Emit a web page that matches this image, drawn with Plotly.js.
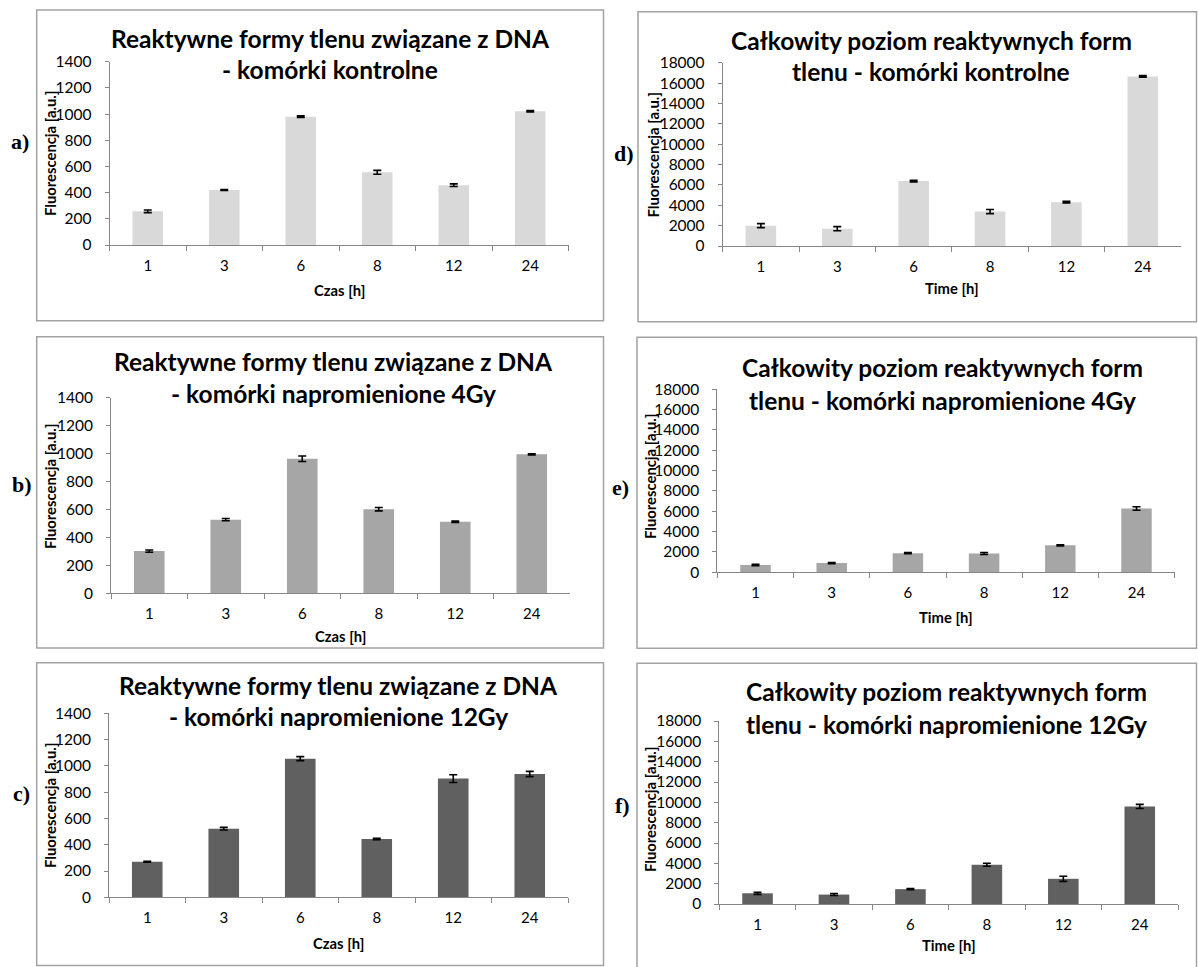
<!DOCTYPE html>
<html>
<head>
<meta charset="utf-8">
<script src="https://cdn.plot.ly/plotly-3.0.1.min.js"></script>
<style>
  html, body { margin: 0; padding: 0; background: #ffffff; }
  #chart { width: 1198px; height: 967px; }
</style>
</head>
<body>
<div id="chart"></div>
<script>
// ---------- DATA ----------
const hours = ['1', '3', '6', '8', '12', '24'];

const dnaControl    = [257, 420, 980, 555, 457, 1022];
const dnaControlErr = [10, 3, 6, 15, 10, 5];
const dna4Gy        = [302, 527, 963, 602, 512, 995];
const dna4GyErr     = [8, 8, 20, 12, 5, 4];
const dna12Gy       = [270, 522, 1055, 443, 903, 938];
const dna12GyErr    = [3, 10, 15, 5, 30, 20];

const totalControl    = [2000, 1700, 6380, 3380, 4300, 16650];
const totalControlErr = [200, 200, 80, 200, 80, 80];
const total4Gy        = [720, 910, 1880, 1850, 2650, 6280];
const total4GyErr     = [60, 60, 60, 100, 60, 170];
const total12Gy       = [1050, 930, 1460, 3860, 2480, 9600];
const total12GyErr    = [100, 100, 50, 150, 250, 200];

const dnaTitle1   = 'Reaktywne formy tlenu związane z DNA';
const totalTitle1 = 'Całkowity poziom reaktywnych form';
const subtitles = {
  a: '- komórki kontrolne',
  b: '- komórki napromienione 4Gy',
  c: '- komórki napromienione 12Gy',
  d: 'tlenu - komórki kontrolne',
  e: 'tlenu - komórki napromienione 4Gy',
  f: 'tlenu - komórki napromienione 12Gy'
};
const yTitle = 'Fluorescencja [a.u.]';
const xTitlePL = 'Czas [h]';
const xTitleEN = 'Time [h]';

// ---------- LAYOUT (pixel geometry) ----------
const W = 1198, H = 967;
const px = v => v / W;
const py = v => 1 - v / H;

const panels = [
  {id:'a', vals:dnaControl,  err:dnaControlErr,  color:'#d9d9d9', ymax:1400,  dtick:200,
   plot:[109.5,568.5,61.7,245], box:[36.7,603.5,10,320.7], t1:dnaTitle1, tx:330, ty1:38.5, ty2:70,
   xt:xTitlePL, xty:290, yty:154, yx:50, lab:[20,142]},
  {id:'b', vals:dna4Gy,      err:dna4GyErr,      color:'#a6a6a6', ymax:1400,  dtick:200,
   plot:[111,570,397.7,593.3], box:[36.7,603.5,336.7,648], t1:dnaTitle1, tx:333, ty1:361.7, ty2:393.3,
   xt:xTitlePL, xty:636, yty:487, yx:50, lab:[22,484]},
  {id:'c', vals:dna12Gy,     err:dna12GyErr,     color:'#606060', ymax:1400,  dtick:200,
   plot:[109,568,713.3,897.3], box:[36.7,603.5,662.7,965.5], t1:dnaTitle1, tx:338, ty1:685, ty2:716.7,
   xt:xTitlePL, xty:942.7, yty:806, yx:50, lab:[21,793]},
  {id:'d', vals:totalControl, err:totalControlErr, color:'#d9d9d9', ymax:18000, dtick:2000,
   plot:[722.7,1181,62.7,246], box:[638,1196.5,11.7,321.7], t1:totalTitle1, tx:931, ty1:40, ty2:72,
   xt:xTitleEN, xty:288, yty:155, yx:652.5, lab:[624,153]},
  {id:'e', vals:total4Gy,    err:total4GyErr,    color:'#a6a6a6', ymax:18000, dtick:2000,
   plot:[717.4,1174.6,389.3,572.3], box:[637,1196.5,337.3,648.3], t1:totalTitle1, tx:942, ty1:367, ty2:400,
   xt:xTitleEN, xty:617, yty:477, yx:650, lab:[620,487]},
  {id:'f', vals:total12Gy,   err:total12GyErr,   color:'#606060', ymax:18000, dtick:2000,
   plot:[719.3,1178,721,904], box:[637,1196.5,663.3,968], t1:totalTitle1, tx:946, ty1:691.7, ty2:724,
   xt:xTitleEN, xty:945, yty:810, yx:650, lab:[622,805]}
];

const FONT = 'Lato, "Open Sans", sans-serif';
const TXT = '#000000';
const AXC = '#868686';

const traces = [];
const layout = {
  width: W, height: H,
  margin: {l:0, r:0, t:0, b:0},
  paper_bgcolor: '#ffffff',
  plot_bgcolor: '#ffffff',
  showlegend: false,
  bargap: 0.6,
  font: {family: FONT, color: TXT},
  shapes: [],
  annotations: []
};

panels.forEach((p, i) => {
  const n = i === 0 ? '' : String(i + 1);
  traces.push({
    type: 'bar',
    x: hours,
    y: p.vals,
    xaxis: 'x' + n,
    yaxis: 'y' + n,
    marker: {color: p.color, line: {width: 0}},
    error_y: {type: 'data', array: p.err, visible: true, color: '#000000', thickness: 1.6, width: 4},
    hoverinfo: 'skip'
  });
  layout['xaxis' + n] = {
    domain: [px(p.plot[0]), px(p.plot[1])],
    anchor: 'y' + n,
    type: 'category',
    showline: true, linecolor: AXC, linewidth: 1,
    ticks: 'outside', tickson: 'boundaries', ticklen: 5, tickcolor: AXC, tickwidth: 1,
    showgrid: false, zeroline: false,
    tickfont: {family: FONT, size: 15, color: TXT},
    ticklabelstandoff: 7,
    fixedrange: true
  };
  layout['yaxis' + n] = {
    domain: [py(p.plot[3]), py(p.plot[2])],
    anchor: 'x' + n,
    range: [0, p.ymax],
    dtick: p.dtick, tick0: 0,
    tickformat: 'd',
    showline: true, linecolor: AXC, linewidth: 1,
    ticks: 'outside', ticklen: 4, tickcolor: AXC, tickwidth: 1,
    showgrid: false, zeroline: false,
    exponentformat: 'none', separatethousands: false,
    tickfont: {family: FONT, size: 15.5, color: TXT},
    ticklabelstandoff: 10,
    fixedrange: true
  };
  // panel frame
  layout.shapes.push({
    type: 'rect', xref: 'paper', yref: 'paper',
    x0: px(p.box[0]), x1: px(p.box[1]), y0: py(p.box[3]), y1: py(p.box[2]),
    line: {color: '#a3a3a3', width: 1.5}, fillcolor: 'rgba(0,0,0,0)', layer: 'below'
  });
  // chart title (two lines)
  [[p.t1, p.ty1], [subtitles[p.id], p.ty2]].forEach(([t, y]) => {
    layout.annotations.push({
      xref: 'paper', yref: 'paper', x: px(p.tx), y: py(y),
      xanchor: 'center', yanchor: 'middle', showarrow: false,
      text: '<b>' + t + '</b>',
      font: {family: FONT, size: 24.5, color: '#000000'}
    });
  });
  // y axis title
  layout.annotations.push({
    xref: 'paper', yref: 'paper', x: px(p.yx), y: py(p.yty),
    xanchor: 'center', yanchor: 'middle', showarrow: false, textangle: -90,
    text: '<b>' + yTitle + '</b>',
    font: {family: FONT, size: 14.8, color: '#000000'}
  });
  // x axis title
  layout.annotations.push({
    xref: 'paper', yref: 'paper', x: px((p.plot[0] + p.plot[1]) / 2), y: py(p.xty),
    xanchor: 'center', yanchor: 'middle', showarrow: false,
    text: '<b>' + p.xt + '</b>',
    font: {family: FONT, size: 14.8, color: TXT}
  });
  // panel letter
  layout.annotations.push({
    xref: 'paper', yref: 'paper', x: px(p.lab[0]), y: py(p.lab[1]),
    xanchor: 'center', yanchor: 'middle', showarrow: false,
    text: '<b>' + p.id + ')</b>',
    font: {family: '"Liberation Serif", "DejaVu Serif", serif', size: 22, color: '#000000'}
  });
});

Plotly.newPlot('chart', traces, layout, {staticPlot: true, displayModeBar: false});
</script>
</body>
</html>
